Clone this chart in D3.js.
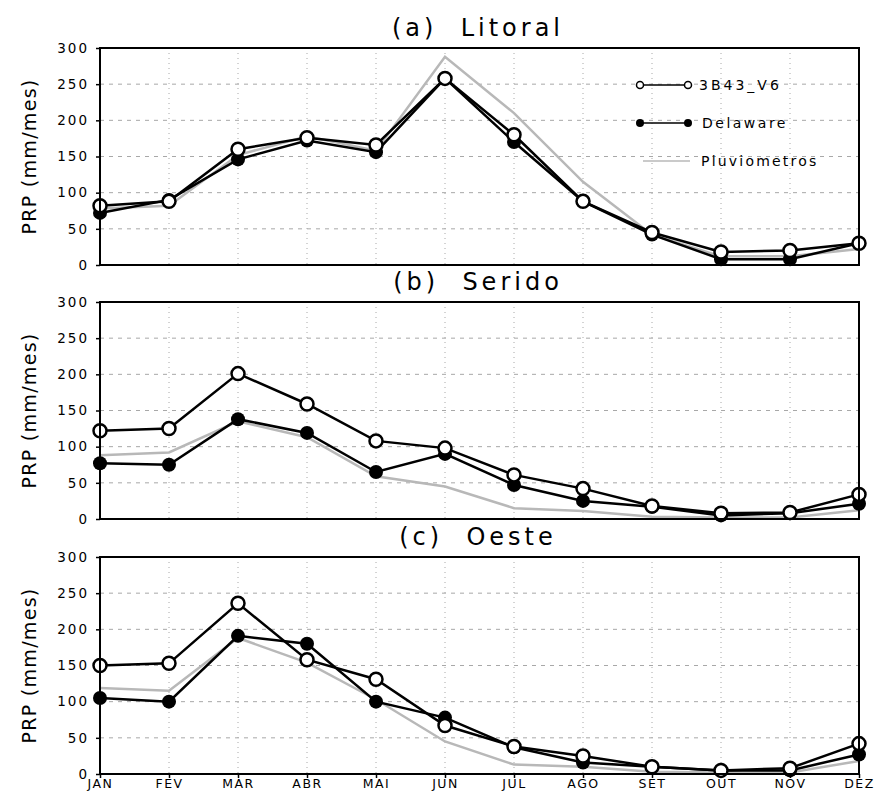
<!DOCTYPE html>
<html>
<head>
<meta charset="utf-8">
<script src="https://cdn.jsdelivr.net/npm/d3@7"></script>
<style>
  body { margin: 0; background: #fff; }
  text { font-family: "DejaVu Sans", sans-serif; fill: #000; }
</style>
</head>
<body>
<div id="container"></div>
<script>
// Month labels and y ticks
let months = ["JAN","FEV","MAR","ABR","MAI","JUN","JUL","AGO","SET","OUT","NOV","DEZ"];
let yTicks = [0, 50, 100, 150, 200, 250, 300];

// (a) Litoral
let litoral3B43     = [82, 88, 160, 176, 166, 258, 180, 88, 45, 18, 20, 30];
let litoralDelaware = [72, 90, 146, 172, 156, 258, 170, 88, 42, 8, 8, 30];
let litoralPluv     = [78, 82, 152, 178, 158, 288, 210, 115, 42, 12, 12, 22];

// (b) Serido
let serido3B43     = [122, 125, 201, 159, 108, 98, 61, 42, 18, 8, 9, 34];
let seridoDelaware = [77, 75, 138, 119, 65, 90, 47, 25, 17, 5, 8, 21];
let seridoPluv     = [88, 92, 135, 113, 59, 45, 15, 11, 3, 2, 2, 12];

// (c) Oeste
let oeste3B43     = [150, 153, 236, 158, 131, 67, 38, 25, 10, 5, 8, 42];
let oesteDelaware = [105, 100, 191, 180, 100, 78, 37, 16, 10, 5, 5, 27];
let oestePluv     = [119, 115, 188, 154, 103, 45, 13, 10, 3, 2, 2, 18];

let panels = [
  { title: "(a)  Litoral", top: 48,  sat: litoral3B43, del: litoralDelaware, pluv: litoralPluv },
  { title: "(b)  Serido",  top: 302, sat: serido3B43,  del: seridoDelaware,  pluv: seridoPluv },
  { title: "(c)  Oeste",   top: 557, sat: oeste3B43,   del: oesteDelaware,   pluv: oestePluv }
];

let w = 877;
let h = 793;
let left = 100, right = 859, ph = 217;

let svg = d3.select("#container")
  .append("svg")
  .attr("width", w)
  .attr("height", h);

let x = d3.scalePoint().domain(months).range([left, right]);

panels.forEach(function(p, i) {
  let y = d3.scaleLinear().domain([0, 300]).range([p.top + ph, p.top]);
  let g = svg.append("g");

  // grid
  g.selectAll(".hgrid")
    .data(yTicks.slice(1, -1))
    .enter().append("line")
      .attr("x1", left).attr("x2", right)
      .attr("y1", d => y(d)).attr("y2", d => y(d))
      .attr("stroke", "#a8a8a8").attr("stroke-width", 1)
      .attr("stroke-dasharray", "4,5");
  g.selectAll(".vgrid")
    .data(months.slice(1, -1))
    .enter().append("line")
      .attr("x1", d => x(d)).attr("x2", d => x(d))
      .attr("y1", p.top).attr("y2", p.top + ph)
      .attr("stroke", "#a8a8a8").attr("stroke-width", 1)
      .attr("stroke-dasharray", "1,4");

  // y axis
  let yAxis = d3.axisLeft(y).tickValues(yTicks).tickSize(4).tickPadding(7);
  let ya = g.append("g").attr("transform", "translate(" + left + ",0)").call(yAxis);
  ya.select(".domain").remove();
  ya.selectAll("text").style("font-size", "13.5px").style("font-family", "DejaVu Sans")
    .style("letter-spacing", "2px");
  ya.selectAll("line").attr("stroke-width", 1.5);

  // x axis on the last panel only
  if (i == panels.length - 1) {
    let xAxis = d3.axisBottom(x).tickSize(4).tickPadding(1);
    let xa = g.append("g").attr("transform", "translate(0," + (p.top + ph) + ")").call(xAxis);
    xa.select(".domain").remove();
    xa.selectAll("text").style("font-size", "12.5px").style("font-family", "DejaVu Sans")
      .style("letter-spacing", "1.5px");
    xa.selectAll("line").attr("stroke-width", 1.5);
  }

  // lines
  let line = d3.line().x((d, k) => x(months[k])).y(d => y(d));
  g.append("path").datum(p.pluv).attr("d", line)
    .attr("fill", "none").attr("stroke", "#b8b8b8").attr("stroke-width", 2.5);
  g.append("path").datum(p.sat).attr("d", line)
    .attr("fill", "none").attr("stroke", "#000").attr("stroke-width", 2.5);
  g.append("path").datum(p.del).attr("d", line)
    .attr("fill", "none").attr("stroke", "#000").attr("stroke-width", 2.5);

  // markers
  g.selectAll(".del")
    .data(p.del)
    .enter().append("circle")
      .attr("cx", (d, k) => x(months[k])).attr("cy", d => y(d))
      .attr("r", 7).attr("fill", "#000");
  g.selectAll(".sat")
    .data(p.sat)
    .enter().append("circle")
      .attr("cx", (d, k) => x(months[k])).attr("cy", d => y(d))
      .attr("r", 6.5).attr("fill", "#fff").attr("stroke", "#000").attr("stroke-width", 2.5);

  // frame
  g.append("rect")
    .attr("x", left).attr("y", p.top).attr("width", right - left).attr("height", ph)
    .attr("fill", "none").attr("stroke", "#000").attr("stroke-width", 2);

  // title
  g.append("text")
    .attr("x", 478).attr("y", p.top - 12)
    .attr("text-anchor", "middle")
    .style("font-size", "24px")
    .style("letter-spacing", "4px")
    .style("white-space", "pre")
    .text(p.title);

  // y label
  g.append("text")
    .attr("transform", "translate(36," + (p.top + ph / 2) + ") rotate(-90)")
    .attr("text-anchor", "middle")
    .style("font-size", "19px")
    .style("letter-spacing", "1.3px")
    .text("PRP (mm/mes)");
});

// legend inside panel (a)
let legend = svg.append("g");
legend.append("line").attr("x1", 640).attr("x2", 688).attr("y1", 85).attr("y2", 85)
  .attr("stroke", "#000").attr("stroke-width", 1.5);
legend.selectAll(".lo").data([640, 688]).enter().append("circle")
  .attr("cx", d => d).attr("cy", 85).attr("r", 3.5)
  .attr("fill", "#fff").attr("stroke", "#000").attr("stroke-width", 1.5);
legend.append("text").attr("x", 699).attr("y", 90).style("font-size", "14px")
  .style("letter-spacing", "3px").text("3B43_V6");

legend.append("line").attr("x1", 640).attr("x2", 688).attr("y1", 123).attr("y2", 123)
  .attr("stroke", "#000").attr("stroke-width", 1.5);
legend.selectAll(".lf").data([640, 688]).enter().append("circle")
  .attr("cx", d => d).attr("cy", 123).attr("r", 4).attr("fill", "#000");
legend.append("text").attr("x", 702).attr("y", 128).style("font-size", "14px")
  .style("letter-spacing", "2.5px").text("Delaware");

legend.append("line").attr("x1", 643).attr("x2", 690).attr("y1", 161).attr("y2", 161)
  .attr("stroke", "#b8b8b8").attr("stroke-width", 1.5);
legend.append("text").attr("x", 701).attr("y", 166).style("font-size", "14px")
  .style("letter-spacing", "2.2px").text("Pluviometros");
</script>
</body>
</html>
